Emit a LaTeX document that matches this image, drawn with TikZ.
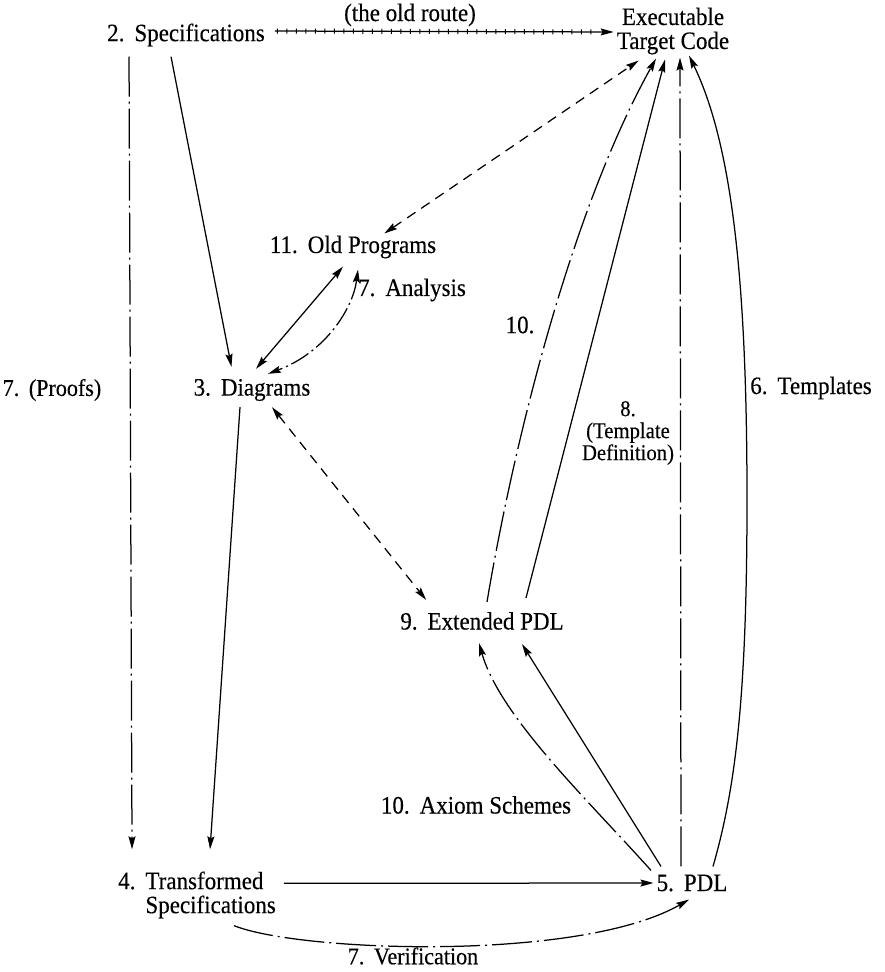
\documentclass[tikz,border=0pt]{standalone}
\usepackage{fontspec}
\setmainfont{Liberation Serif}[FakeStretch=0.92,FakeBold=0.3]
\usetikzlibrary{arrows.meta,calc}
\newcommand{\sep}{\hspace{0.4em}}
\begin{document}
\begin{tikzpicture}[x=1pt,y=-1pt,
  lbl/.style={inner sep=0pt, font=\fontsize{25}{24}\selectfont, align=center},
  small/.style={font=\fontsize{22.5}{22}\selectfont},
  tip/.style={-{Stealth[length=13pt,width=7pt,inset=2pt]}},
  tips/.style={{Stealth[length=13pt,width=7pt,inset=2pt]}-{Stealth[length=13pt,width=7pt,inset=2pt]}},
  conn/.style={line width=1.25pt},
  dashdot/.style={conn, dash pattern=on 40pt off 5pt on 2pt off 5pt},
  dashdotshort/.style={conn, dash pattern=on 20pt off 4pt on 2pt off 4pt},
  dashedline/.style={conn, dash pattern=on 10pt off 7pt},
  rail/.style={conn, postaction={draw, line width=5pt, dash pattern=on 1pt off 8.5pt, shorten >=14pt, shorten <=2pt, arrows=-}},
]
\useasboundingbox (0,0) rectangle (884,972);

% nodes
\node[lbl] (route) at (410,15) {(the old route)};
\node[lbl] (spec) at (186,35) {2.\sep Specifications};
\node[lbl] (target) at (673,31) {Executable\\Target Code};
\node[lbl] (old) at (353,247) {11.\sep Old Programs};
\node[lbl] (analysis) at (412,290) {7.\sep Analysis};
\node[lbl] (diag) at (252,390) {3.\sep Diagrams};
\node[lbl, font=\fontsize{24}{24}\selectfont] (proofs) at (52,390) {7.\sep (Proofs)};
\node[lbl] (ten) at (520,325) {10.};
\node[lbl, small] (tmpldef) at (628,433) {8.\\(Template\\Definition)};
\node[lbl] (templates) at (811,388) {6.\sep Templates};
\node[lbl] (ext) at (482,621) {9.\sep Extended PDL};
\node[lbl] (axiom) at (476,805) {10.\sep Axiom Schemes};
\node[lbl, align=left] (trans) at (197,895) {4.\sep Transformed\\\phantom{4.\sep}Specifications};
\node[lbl] (pdl) at (692,883) {5.\sep PDL};
\node[lbl, font=\fontsize{24}{24}\selectfont] (verif) at (413,956) {7.\sep Verification};

% connectors
\draw[rail, tip] ($(spec.east)+(10,-4)$) -- ($(target.west)+(-3,1)$);
\draw[dashdot, tip] ($(spec.south west)+(22,10)$) -- ($(trans.north west)+(14,-22)$);
\draw[conn, tip] ($(spec.south west)+(64,10)$) -- ($(diag.north west)+(38,-12)$);
\draw[dashedline, tips] ($(old.north east)+(-52,-2)$) -- ($(target.south west)+(22,6)$);
\draw[conn, tips] ($(old.south)+(-10,8)$) -- ($(diag.north)+(4,-10)$);
\draw[dashdotshort, tips] ($(old.south)+(5,11)$) .. controls (353,308) and (326,352) .. ($(diag.north)+(16,-5)$);
\draw[dashedline, tips] ($(diag.south)+(20,6)$) -- ($(ext.north west)+(26,-12)$);
\draw[conn, tip] ($(diag.south)+(-12,6)$) -- ($(trans.north west)+(92,-22)$);
\draw[dashdot, tip] ($(ext.north)+(5,-10)$) .. controls (513,447) and (570,213) .. ($(target.south)+(-17,4)$);
\draw[conn, tip] ($(ext.north)+(44,-14)$) -- ($(target.south)+(-8,5)$);
\draw[dashdot, tip] ($(pdl.north)+(-11,-8)$) -- ($(target.south)+(7,3)$);
\draw[conn, tip] ($(pdl.north)+(21,-8)$) .. controls (735,790) and (747,700) .. (747,500) .. controls (747,300) and (735,150) .. ($(target.south)+(16,1)$);
\draw[conn, tip] ($(pdl.north)+(-31,-8)$) -- ($(ext.south)+(40,14)$);
\draw[dashdot, tip] ($(pdl.north)+(-41,-4)$) .. controls (590,802) and (500,717) .. ($(ext.south)+(-3,13)$);
\draw[conn, tip] ($(trans.north east)+(8,12)$) -- ($(pdl.west)+(-3,0)$);
\draw[dashdot, tip] ($(trans.south)+(37,7)$) .. controls (300,952) and (580,962) .. ($(pdl.south)+(-3,8)$);
\end{tikzpicture}
\end{document}
